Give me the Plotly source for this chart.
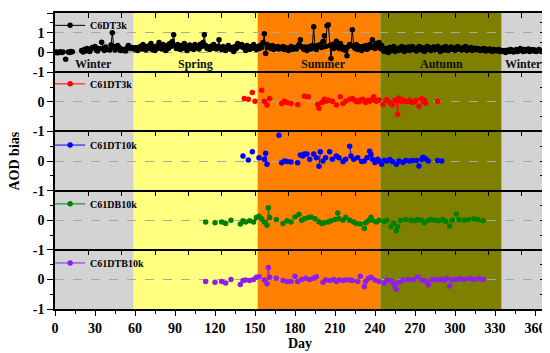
import plotly.graph_objects as go

# ---------------- data ----------------
season_names = ["Winter", "Spring", "Summer", "Autumn", "Winter"]
season_bounds = [0, 59, 152, 244, 335, 366]
season_colors = ["#D3D3D3", "#FFFF80", "#FF8000", "#808000", "#D3D3D3"]

series_names = ["C6DT3k", "C61DT3k", "C61DT10k", "C61DB10k", "C61DTB10k"]
series_colors = ["#000000", "#FF0000", "#0000FF", "#008000", "#8F1EE8"]

c6dt3k_days = [0, 1, 2, 3, 4, 5, 6, 8, 10, 11, 12, 13,
               20, 21, 22, 23, 24, 25, 26, 27, 28, 30, 31, 32, 33, 35, 36, 37, 38, 39,
               41, 42, 43, 44, 45, 46, 47, 48, 49, 50, 51, 52, 53, 54, 55, 56, 57, 58] + list(range(59, 366))
c6dt3k_vals = [
    0.0, 0.02, -0.02, 0.0, 0.03, 0.0, 0.02, -0.35, 0.02, 0.0, 0.05, 0.03,
    0.1, 0.02, 0.15, 0.08, 0.2, 0.12, 0.05, 0.18, 0.25, 0.3, 0.12, 0.08, 0.2, 0.52, 0.2, 0.1, 0.28, 0.15,
    0.12, 0.38, 1.0, 0.3, 0.12, 0.2, 0.35, 0.25, 0.1, 0.18, 0.1, 0.15, 0.08, 0.22, 0.35, 0.28, 0.2, 0.25,
    # spring 59-151
    0.2, 0.15, 0.25, 0.1, 0.22, 0.3, 0.18, 0.4, 0.25, 0.12, 0.3,
    0.2, 0.35, 0.45, 0.15, 0.28, 0.1, 0.32, 0.22, 0.5, 0.3,
    0.18, 0.4, 0.25, 0.1, 0.35, 0.2, 0.45, 0.3, 0.55, 0.9,
    0.35, 0.2, 0.4, 0.28, 0.15, 0.35, 0.22, 0.45, 0.3, 0.1,
    0.25, 0.38, 0.2, 0.32, 0.15, 0.4, 0.25, 0.3, 0.18, 0.42,
    0.3, 0.5, 0.9, 0.35, 0.2, 0.28, 0.15, 0.32, 0.22, 0.4,
    0.28, 0.18, 0.3, 0.65, 0.25, 0.15, 0.3, 0.22, 0.1, 0.28,
    0.35, 0.2, 0.15, 0.25, 0.05, 0.3, 0.2, 0.45, 0.3, 0.35,
    0.4, 0.25, 0.3, 0.1, 0.35, 0.2, 0.15, 0.3, 0.22, 0.4,
    0.28, 0.15,
    # summer 152-243
    0.3, 0.2, 0.35, 0.25, 0.5, 0.95, -0.05, 0.4, 0.25, 0.3,
    0.2, 0.35, 0.15, 0.28, 0.22, 0.3, 0.18, 0.25, 0.2, 0.3,
    0.15, 0.25, 0.2, 0.1, 0.22, 0.3, 0.15, 0.25, 0.2, 0.18,
    0.3, 0.4, 0.65, 0.3, 0.2, 0.15, 0.28, 0.1, 0.22, 0.3,
    0.18, 0.35, 1.3, 0.25, 0.15, 0.35, 0.3, 0.4, 0.25, 0.55,
    0.85, 0.3, 1.35, 1.4, 0.35, -0.3, 0.4, 0.2, 0.3, 0.57,
    0.35, 0.2, 0.45, 0.3, 0.15, 0.25, 0.1, -0.17, 0.3, 0.4,
    0.35, 1.15, 0.3, 0.2, 0.4, 0.15, 0.3, 0.25, 0.1, 0.3,
    0.2, 0.35, 0.15, 0.3, 0.4, 0.25, 0.65, 0.3, 0.2, 0.45,
    0.3, 0.5,
    # autumn 244-335
    0.2, 0.35, 0.1, 0.05, 0.2, 0.15, 0.0, 0.25, 0.1, 0.18,
    0.3, 0.05, 0.15, 0.22, 0.1, 0.2, 0.3, 0.12, 0.05, 0.25,
    0.15, 0.28, 0.1, 0.2, 0.3, 0.15, 0.22, 0.08, 0.2, 0.3,
    0.12, 0.25, 0.18, 0.05, 0.22, 0.3, 0.15, 0.25, 0.1, 0.2,
    0.28, 0.12, 0.2, 0.3, 0.15, 0.05, 0.2, 0.25, 0.12, 0.3,
    0.18, 0.1, 0.22, 0.28, 0.15, 0.2, 0.1, 0.25, 0.3, 0.15,
    0.2, 0.12, 0.25, 0.18, 0.3, 0.1, 0.2, 0.15, 0.25, 0.1,
    0.18, 0.22, 0.12, 0.2, 0.15, 0.1, 0.18, 0.12, 0.2, 0.08,
    0.15, 0.1, 0.18, 0.12, 0.05, 0.15, 0.1, 0.12, 0.08, 0.15,
    0.05, 0.1,
    # winter 336-365
    0.05, 0.1, 0.0, 0.08, 0.12, 0.05, 0.15, 0.08, 0.02, 0.1,
    0.15, 0.05, 0.12, 0.2, 0.1, 0.05, 0.15, 0.08, 0.12, 0.18,
    0.05, 0.1, 0.15, 0.08, 0.12, 0.05, 0.1, 0.15, 0.08, 0.05,
]

c61dt3k_days = [142, 145, 148, 150, 155, 157, 159, 161, 170, 172, 174, 177, 182, 187, 190,
                197, 198, 200, 202, 203, 205, 208, 211, 214, 216, 218, 221, 223, 225, 226,
                228, 229, 231, 232, 233, 235, 236, 238, 239, 240, 241, 243, 246, 248, 249,
                251, 253, 255, 256, 257, 258, 260, 261, 263, 265, 266, 268, 270, 271, 273,
                275, 276, 277, 278, 287]
c61dt3k_vals = [0.11, 0.09, 0.31, 0.02, 0.39, 0.02, -0.11, 0.11, -0.06, 0.02, -0.02, -0.06, -0.09, 0.19, 0.17,
                -0.09, -0.22, -0.02, 0.09, 0.02, 0.05, 0.02, -0.11, 0.17, -0.06, 0.02, 0.09, 0.11, 0.05, 0.0,
                0.0, 0.06, 0.09, 0.02, -0.02, 0.05, 0.02, 0.08, 0.17, 0.05, 0.02, 0.06, -0.09, 0.05, 0.08,
                -0.02, -0.1, 0.05, 0.05, -0.42, 0.13, 0.02, 0.06, 0.0, 0.02, 0.05, -0.02, 0.0, 0.05, -0.15,
                0.1, 0.02, 0.05, -0.05, 0.02]

c61dt10k_days = [141, 145, 148, 153, 157, 158, 159, 168, 170, 172, 174, 177, 182, 184, 186,
                 187, 189, 191, 194, 196, 198, 199, 201, 203, 206, 208, 211, 213, 216, 218,
                 221, 222, 224, 227, 230, 232, 234, 236, 237, 238, 240, 242, 243, 245, 247,
                 249, 251, 253, 256, 258, 261, 263, 266, 268, 271, 273, 275, 276, 278, 280,
                 287, 290]
c61dt10k_vals = [0.17, 0.03, 0.31, 0.11, 0.06, 0.26, -0.11, 0.87, -0.06, 0.0, -0.02, -0.03, -0.06, 0.2, 0.17,
                 0.24, 0.24, 0.06, 0.24, 0.11, -0.18, 0.31, 0.0, 0.11, 0.31, 0.06, 0.17, 0.11, -0.02, 0.06,
                 0.5, 0.17, 0.06, 0.11, -0.02, 0.0, 0.11, 0.33, 0.22, 0.06, -0.05, 0.06, 0.0, -0.11, 0.02,
                 0.0, 0.05, -0.02, -0.11, 0.0, -0.05, 0.02, 0.0, 0.02, 0.02, -0.17, 0.05, 0.13, 0.08, 0.0,
                 0.02, 0.0]

c61db10k_days = [113, 120, 125, 128, 132, 139, 141, 143, 146, 149, 151, 153, 155, 157, 159,
                 160, 161, 166, 171, 174, 177, 180, 183, 185, 187, 190, 192, 195, 198, 200,
                 202, 205, 207, 210, 212, 213, 216, 218, 221, 224, 226, 229, 232, 233, 235,
                 237, 238, 241, 243, 247, 249, 252, 254, 256, 257, 259, 263, 267, 270, 272,
                 275, 277, 280, 282, 285, 288, 291, 293, 296, 298, 301, 303, 307, 310, 314,
                 317, 321]
c61db10k_vals = [-0.06, -0.09, -0.06, -0.11, 0.0, -0.13, -0.02, -0.06, -0.02, -0.06, 0.09, 0.13, 0.05, -0.06, -0.17,
                 0.42, 0.09, 0.02, -0.11, -0.02, -0.06, 0.11, 0.2, 0.0, 0.05, 0.09, 0.11, 0.05, -0.05, -0.11,
                 -0.09, -0.06, -0.02, 0.02, 0.24, 0.05, 0.0, 0.09, 0.0, -0.06, -0.11, -0.13, -0.28, -0.09, -0.02,
                 0.1, 0.0, -0.06, 0.0, -0.04, 0.0, -0.22, -0.1, -0.36, -0.22, 0.0, 0.02, 0.0, -0.02, 0.02,
                 0.0, -0.09, 0.0, 0.02, 0.0, -0.02, 0.02, -0.04, -0.2, 0.0, 0.21, 0.02, 0.0, 0.02, 0.05,
                 0.02, -0.02]

c61dtb10k_days = [113, 120, 125, 128, 132, 139, 141, 143, 146, 149, 151, 153, 157, 159, 160,
                  161, 166, 171, 174, 177, 180, 182, 185, 188, 191, 194, 196, 201, 203, 206,
                  209, 211, 213, 216, 218, 221, 223, 227, 229, 232, 233, 235, 237, 240, 243,
                  247, 249, 252, 254, 255, 256, 258, 261, 265, 269, 272, 275, 277, 279, 280,
                  283, 286, 289, 292, 294, 296, 298, 301, 304, 307, 311, 314, 318, 321]
c61dtb10k_vals = [-0.07, -0.1, -0.07, -0.12, 0.0, -0.17, -0.04, -0.02, -0.04, 0.0, 0.07, 0.09, -0.02, -0.15, 0.4,
                  0.07, 0.04, -0.04, -0.07, -0.07, 0.11, -0.07, 0.0, 0.04, 0.0, 0.04, 0.09, -0.1, -0.02, -0.04,
                  0.0, -0.07, -0.02, -0.04, -0.02, -0.02, -0.04, -0.07, 0.11, -0.25, -0.07, 0.03, 0.07, -0.02, -0.07,
                  -0.13, -0.02, -0.04, -0.13, -0.23, -0.33, -0.1, -0.02, 0.0, 0.0, 0.08, -0.02, -0.04, -0.08, -0.18,
                  0.0, -0.02, 0.0, -0.02, 0.03, -0.22, -0.02, 0.0, 0.02, 0.0, 0.03, 0.0, 0.03, 0.0]

panel_days = [c6dt3k_days, c61dt3k_days, c61dt10k_days, c61db10k_days, c61dtb10k_days]
panel_vals = [c6dt3k_vals, c61dt3k_vals, c61dt10k_vals, c61db10k_vals, c61dtb10k_vals]
panel_ranges = [[-1, 2], [-1, 1], [-1, 1], [-1, 1], [-1, 1]]
x_ticks = [0, 30, 60, 90, 120, 150, 180, 210, 240, 270, 300, 330, 360]
top_ticks = [25, 50, 75, 100, 125, 150, 175, 200, 225, 250, 275, 300, 325, 350]

# ---------------- figure ----------------
FONT = "Liberation Serif"
XR = [0, 366]
fig = go.Figure()
n = 5
legend_y = [0.955, 0.758, 0.552, 0.354, 0.155]


def with_gaps(days, vals):
    xs, ys = [], []
    for k, (d, v) in enumerate(zip(days, vals)):
        if k > 0 and d - days[k - 1] > 1:
            xs.append(None)
            ys.append(None)
        xs.append(d)
        ys.append(v)
    return xs, ys


layout = {}
for i in range(n):
    sfx = "" if i == 0 else str(i + 1)
    osfx = str(n + i + 1)
    dom = [(n - 1 - i) / n, (n - i) / n]
    leg = "legend" if i == 0 else "legend" + str(i + 1)
    xs, ys = with_gaps(panel_days[i], panel_vals[i])
    fig.add_trace(go.Scatter(
        x=xs, y=ys, mode="lines+markers", name=series_names[i],
        line=dict(color=series_colors[i], width=1),
        marker=dict(color=series_colors[i], size=5.5),
        xaxis="x" + sfx, yaxis="y" + sfx, legend=leg, connectgaps=False))
    # dummy trace for overlay (top/right) axes
    fig.add_trace(go.Scatter(x=[None], y=[None], xaxis="x" + osfx, yaxis="y" + osfx,
                             showlegend=False, hoverinfo="skip"))
    r = panel_ranges[i]
    if i == 0:
        tv = [-1, 0, 1, 2]
        tt = ["-1", "0", "1", "2"]
    else:
        tv = [-1, 0, 1]
        tt = ["-1", "0", ""]
    bottom = (i == n - 1)
    layout["xaxis" + sfx] = dict(
        domain=[0, 1], anchor="y" + sfx, range=XR, showgrid=False, zeroline=False,
        showline=True, linecolor="black", linewidth=1.5 if bottom else 1,
        ticks="outside" if bottom else "", tickvals=x_ticks if bottom else [],
        ticklen=5, tickwidth=1.2, tickcolor="black",
        showticklabels=bottom, tickfont=dict(size=14, family=FONT, color="black", weight="bold"),
        minor=dict(ticks="outside", dtick=15, tick0=0, ticklen=3, tickcolor="black", tickwidth=1.2) if bottom else None,
    )
    layout["yaxis" + sfx] = dict(
        domain=dom, anchor="x" + sfx, range=r, zeroline=False,
        showline=True, linecolor="black", linewidth=1.5,
        tickvals=tv, ticktext=tt, ticks="outside", ticklen=6, tickwidth=1.2, tickcolor="black",
        tickfont=dict(size=14, family=FONT, color="black", weight="bold"),
        minor=dict(ticks="outside", dtick=0.5, tick0=0, ticklen=3, tickcolor="black", tickwidth=1.2, showgrid=False),
        showgrid=True, gridcolor="#A8A8A8", griddash="dash", gridwidth=0.8,
    )
    layout["xaxis" + osfx] = dict(
        overlaying="x" + sfx, anchor="y" + osfx, side="top", range=XR, showgrid=False, zeroline=False,
        showline=True, linecolor="black", linewidth=1.5 if i == 0 else 1,
        ticks="inside", tickvals=top_ticks, ticklen=5, tickwidth=1.2, tickcolor="black",
        showticklabels=False,
    )
    layout["yaxis" + osfx] = dict(
        overlaying="y" + sfx, anchor="x" + osfx, side="right", range=r, showgrid=False, zeroline=False,
        showline=True, linecolor="black", linewidth=1.5,
        ticks="inside", dtick=0.5, tick0=0, ticklen=3, tickwidth=1.2, tickcolor="black",
        showticklabels=False,
    )
    layout[leg] = dict(
        x=-0.01, y=legend_y[i], xanchor="left", yanchor="middle",
        bgcolor="rgba(0,0,0,0)", borderwidth=0, itemwidth=30,
        font=dict(size=10, family=FONT, color="black", weight="bold"),
    )

shapes = []
for k in range(len(season_names)):
    shapes.append(dict(type="rect", xref="x", yref="paper",
                       x0=season_bounds[k], x1=season_bounds[k + 1], y0=0, y1=1,
                       fillcolor=season_colors[k], line=dict(width=0), layer="below"))

season_label_x = [28.5, 105, 201.5, 290, 336]
season_anchor = ["center", "center", "center", "center", "left"]
annotations = []
for k, name in enumerate(season_names):
    annotations.append(dict(x=season_label_x[k], y=-0.6, xref="x", yref="y", text=name,
                            showarrow=False, xanchor=season_anchor[k], yanchor="middle",
                            font=dict(size=12, family=FONT, color="#111111", weight="bold")))
annotations.append(dict(x=-0.085, y=0.5, xref="paper", yref="paper", text="AOD bias",
                        textangle=-90, showarrow=False, xanchor="center", yanchor="middle",
                        font=dict(size=14, family=FONT, color="black", weight="bold")))
annotations.append(dict(x=0.502, y=-0.115, xref="paper", yref="paper", text="Day",
                        showarrow=False, xanchor="center", yanchor="middle",
                        font=dict(size=14, family=FONT, color="black", weight="bold")))

# the page body adds an 8px offset, so the figure is drawn 8px smaller with shifted margins
fig.update_layout(
    **layout,
    width=542, height=345,
    margin=dict(l=47, r=7, t=4, b=44),
    paper_bgcolor="white", plot_bgcolor="white",
    font=dict(family=FONT, color="black", weight="bold"),
    shapes=shapes, annotations=annotations,
    hovermode=False,
)

fig.write_html("out.html")
